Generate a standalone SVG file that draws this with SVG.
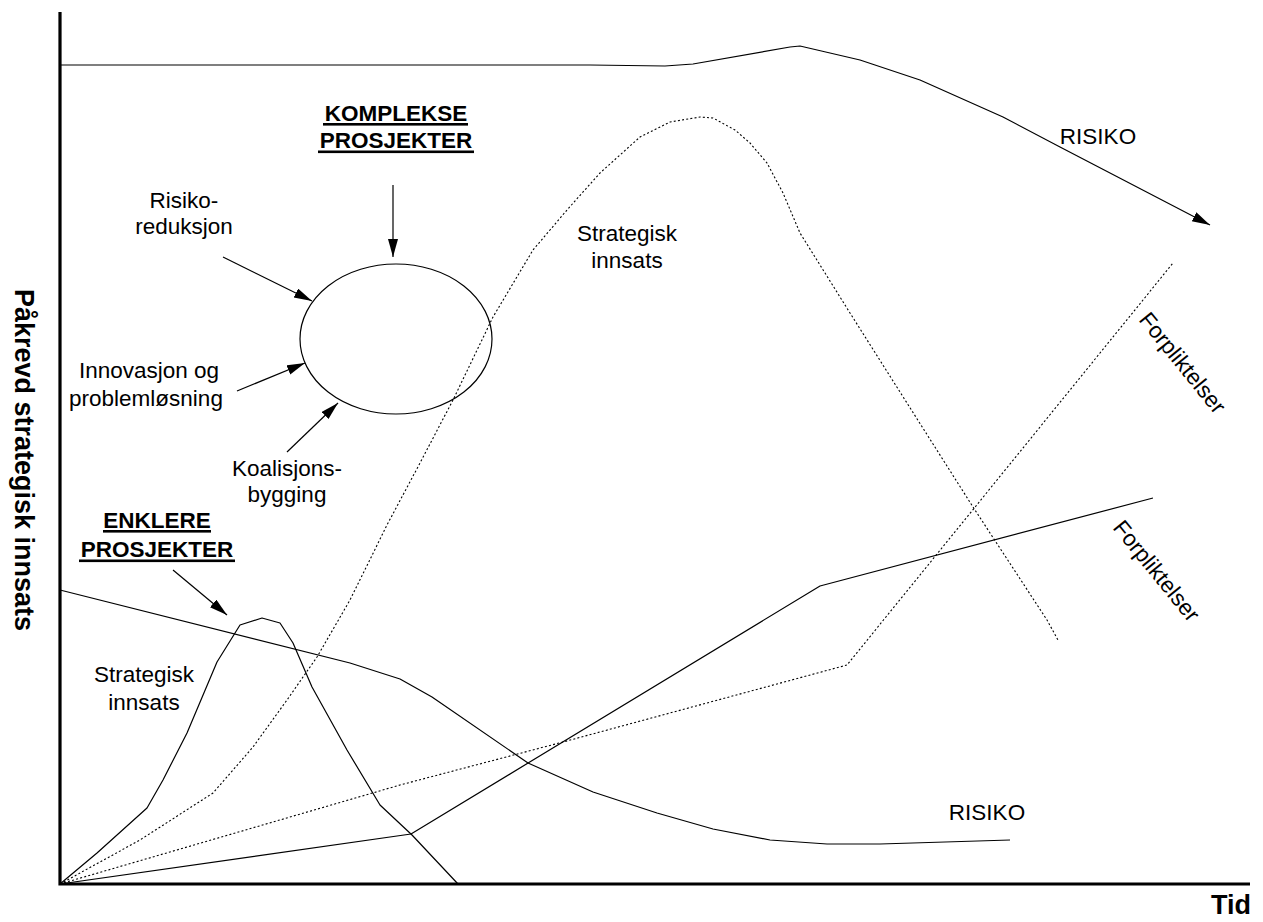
<svg xmlns="http://www.w3.org/2000/svg" width="1263" height="922" viewBox="0 0 1263 922">
  <style>
    .lbl { font-family: "Liberation Sans", Arial, sans-serif; font-size: 22.5px; fill: #000; }
    .hdr { font-family: "Liberation Sans", Arial, sans-serif; font-size: 22.5px; font-weight: bold; fill: #000; }
    .axl { font-family: "Liberation Sans", Arial, sans-serif; font-size: 27px; font-weight: bold; fill: #000; }
    .solid { fill: none; stroke: #000; stroke-width: 1.2; stroke-linejoin: round; }
    .dotted { fill: none; stroke: #000; stroke-width: 1.1; stroke-dasharray: 2 2.2; }
    .arrow { fill: none; stroke: #000; stroke-width: 1.2; marker-end: url(#head); }
    .axis { fill: none; stroke: #000; stroke-width: 3.2; }
  </style>
  <defs>
    <marker id="head" markerUnits="userSpaceOnUse" markerWidth="20" markerHeight="12" refX="18" refY="5" orient="auto">
      <path d="M0,0 L18,5 L0,10 z" fill="#000"/>
    </marker>
  </defs>
  <rect width="1263" height="922" fill="#fff"/>

  <!-- axes -->
  <g id="axes">
    <polyline class="axis" points="60,12 60,884 1250,884"/>
    <text class="axl" transform="translate(15,460) rotate(90)" text-anchor="middle">Påkrevd strategisk innsats</text>
    <text class="axl" x="1251" y="914" text-anchor="end">Tid</text>
  </g>

  <!-- data curves -->
  <g id="curves">
    <!-- risk, complex projects -->
    <polyline id="risk-complex" class="solid" marker-end="url(#head)" points="60,65 590,65 665,66 693,64 790,47 800,46 860,60 920,80 1003,117 1060,147 1210,225"/>
    <!-- strategic effort, complex projects -->
    <polyline id="effort-complex" class="dotted" points="60,884 140,840 213,793 253,747 287,700 317,657 350,600 387,525 420,463 453,400 493,317 533,250 567,210 600,173 640,137 670,122 700,117 713,118 735,130 750,143 767,163 783,193 800,233 850,313 900,392 973,507 1047,620 1058,640"/>
    <!-- commitments, complex projects -->
    <polyline id="commit-complex" class="dotted" points="60,884 400,785 563,742 847,665 1173,263"/>
    <!-- commitments, simpler projects -->
    <polyline id="commit-simple" class="solid" points="60,884 411,834 820,586 1153,498"/>
    <!-- strategic effort, simpler projects -->
    <polyline id="effort-simple" class="solid" points="60,884 97,853 147,808 163,780 187,733 217,662 240,625 262,618 280,623 293,643 312,687 347,750 380,805 412,835 458,884"/>
    <!-- risk, simpler projects -->
    <polyline id="risk-simple" class="solid" points="60,590 350,663 400,679 432,697 528,763 593,792 657,813 713,829 770,840 827,844 880,844 1010,840"/>
  </g>

  <!-- complex project focus -->
  <g id="focus-ellipse">
    <ellipse cx="396" cy="339" rx="96" ry="75" class="solid"/>
  </g>

  <g id="connectors">
    <line class="arrow" x1="393" y1="185" x2="393" y2="257"/>
    <line class="arrow" x1="223" y1="257" x2="312" y2="301"/>
    <line class="arrow" x1="237" y1="391" x2="305" y2="363"/>
    <line class="arrow" x1="287" y1="452" x2="338" y2="403"/>
    <line class="arrow" x1="173" y1="570" x2="227" y2="615"/>
  </g>

  <g id="label-complex">
    <text class="hdr" x="396" y="121" text-anchor="middle">KOMPLEKSE</text>
    <rect x="323" y="123" width="145" height="2.6" fill="#000"/>
    <text class="hdr" x="396" y="148" text-anchor="middle">PROSJEKTER</text>
    <rect x="318" y="150.5" width="156" height="2.6" fill="#000"/>
  </g>

  <g id="label-simple">
    <text class="hdr" x="157" y="528" text-anchor="middle">ENKLERE</text>
    <rect x="103" y="530" width="108" height="2.6" fill="#000"/>
    <text class="hdr" x="157" y="557" text-anchor="middle">PROSJEKTER</text>
    <rect x="79" y="559.5" width="156" height="2.6" fill="#000"/>
  </g>

  <g id="label-risk-reduction">
    <text class="lbl" x="184" y="208" text-anchor="middle">Risiko-</text>
    <text class="lbl" x="184" y="234" text-anchor="middle">reduksjon</text>
  </g>

  <g id="label-innovation">
    <text class="lbl" x="149" y="378" text-anchor="middle">Innovasjon og</text>
    <text class="lbl" x="146" y="406" text-anchor="middle">problemløsning</text>
  </g>

  <g id="label-coalition">
    <text class="lbl" x="287" y="476" text-anchor="middle">Koalisjons-</text>
    <text class="lbl" x="287" y="502" text-anchor="middle">bygging</text>
  </g>

  <g id="label-effort-complex">
    <text class="lbl" x="627" y="241" text-anchor="middle">Strategisk</text>
    <text class="lbl" x="627" y="268" text-anchor="middle">innsats</text>
  </g>

  <g id="label-effort-simple">
    <text class="lbl" x="144" y="682" text-anchor="middle">Strategisk</text>
    <text class="lbl" x="144" y="710" text-anchor="middle">innsats</text>
  </g>

  <g id="label-risk-complex">
    <text class="lbl" x="1098" y="144" text-anchor="middle">RISIKO</text>
  </g>

  <g id="label-risk-simple">
    <text class="lbl" x="987" y="820" text-anchor="middle">RISIKO</text>
  </g>

  <g id="label-commit-complex">
    <text class="lbl" transform="translate(1138,320) rotate(51)">Forpliktelser</text>
  </g>

  <g id="label-commit-simple">
    <text class="lbl" transform="translate(1112,528) rotate(51)">Forpliktelser</text>
  </g>
</svg>
